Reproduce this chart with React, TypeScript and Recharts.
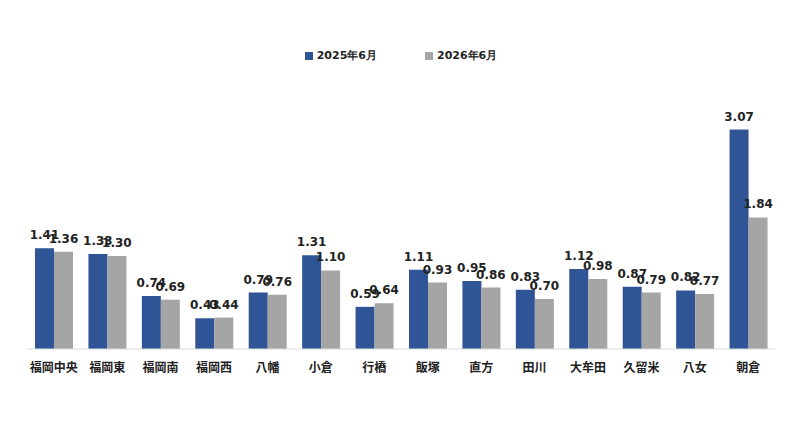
import React from "react";
import { BarChart, Bar, XAxis, YAxis, LabelList, Legend } from "recharts";

const categories = ["福岡中央","福岡東","福岡南","福岡西","八幡","小倉","行橋","飯塚","直方","田川","大牟田","久留米","八女","朝倉"];
const s2025 = [1.41,1.33,0.74,0.43,0.79,1.31,0.59,1.11,0.95,0.83,1.12,0.87,0.82,3.07];
const s2026 = [1.36,1.30,0.69,0.44,0.76,1.10,0.64,0.93,0.86,0.70,0.98,0.79,0.77,1.84];
const data = categories.map((c, i) => ({ name: c, a: s2025[i], b: s2026[i] }));

const C1 = "#2F5597";
const C2 = "#A5A5A5";
const font = "'Noto Sans CJK JP', Verdana, sans-serif";
const numFont = "'DejaVu Sans', Verdana, sans-serif";

const LegendContent = () => (
  <div style={{ display: "flex", justifyContent: "center", gap: 48, fontFamily: numFont, fontSize: 11, fontWeight: 700, color: "#222" }}>
    {[["2025年6月", C1], ["2026年6月", C2]].map(([t, c]) => (
      <div key={t} style={{ display: "flex", alignItems: "center", gap: 4 }}>
        <span style={{ width: 8, height: 8, background: c, display: "inline-block" }} />
        <span>{t}</span>
      </div>
    ))}
  </div>
);

const fmt = (v: number) => v.toFixed(2);
const lab = { fontFamily: numFont, fontSize: 12, fontWeight: 700, fill: "#222" };

export default function App() {
  return (
    <div style={{ position: "absolute", left: 0, top: 0, background: "#fff" }}>
      <BarChart width={800} height={436} data={data} margin={{ top: 101, right: 25, left: 27, bottom: 57 }} barGap={0} barSize={19}>
        <XAxis dataKey="name" axisLine={{ stroke: "#d9d9d9" }} tickLine={false} height={30} interval={0}
          tick={{ fontFamily: font, fontSize: 12, fontWeight: 700, fill: "#222" }} tickMargin={8} />
        <YAxis hide domain={[0, 3.26]} />
        <Legend verticalAlign="top" content={<LegendContent />} wrapperStyle={{ top: 48 }} />
        <Bar dataKey="a" fill={C1} isAnimationActive={false}>
          <LabelList dataKey="a" position="top" formatter={fmt} style={lab} offset={9} />
        </Bar>
        <Bar dataKey="b" fill={C2} isAnimationActive={false}>
          <LabelList dataKey="b" position="top" formatter={fmt} style={lab} offset={9} />
        </Bar>
      </BarChart>
    </div>
  );
}
